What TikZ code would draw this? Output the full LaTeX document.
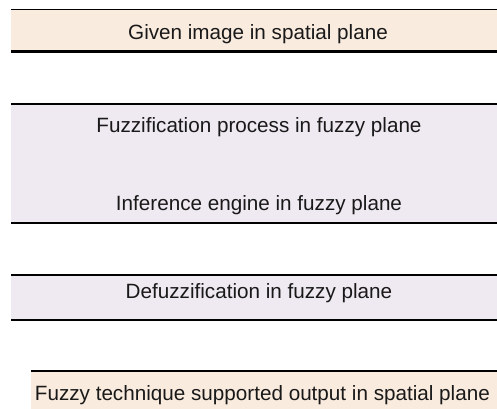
\documentclass[tikz,border=0pt]{standalone}
\usepackage{fontspec}
\setmainfont{Liberation Sans}
\definecolor{peach}{HTML}{FAEBDF}
\definecolor{lav}{HTML}{EFE9F1}
\begin{document}
\begin{tikzpicture}[x=0.75pt,y=-0.75pt,
  band/.style={rectangle,draw=none,inner sep=0pt,outer sep=0pt,anchor=north west},
  lbl/.style={anchor=base,inner sep=0pt,font=\fontsize{15.5pt}{18pt}\selectfont,text=black!90},
  thin rule/.style={line width=1pt},
  thick rule/.style={line width=1.6pt}]
\useasboundingbox (0,0) rectangle (497,408);
% bands
\node[band,fill=peach,minimum width=486*0.75pt,minimum height=42*0.75pt] (b1) at (11,9.5) {};
\node[band,fill=lav,minimum width=486*0.75pt,minimum height=119*0.75pt] (b2) at (11,104) {};
\node[band,fill=lav,minimum width=486*0.75pt,minimum height=45*0.75pt] (b3) at (11,275) {};
\node[band,fill=peach,minimum width=466*0.75pt,minimum height=40*0.75pt] (b4) at (31,371) {};
% rules
\draw[thin rule] (b1.north west) -- (b1.north east);
\draw[thick rule] (b1.south west) -- (b1.south east);
\draw[thick rule] (b2.north west) -- (b2.north east);
\draw[thick rule] (b2.south west) -- (b2.south east);
\draw[thick rule] (b3.north west) -- (b3.north east);
\draw[thick rule] (b3.south west) -- (b3.south east);
\draw[thin rule] (b4.north west) -- (b4.north east);
% labels
\node[lbl] (t1) at (258,39) {Given image in spatial plane};
\node[lbl] (t2) at (259,132) {Fuzzification process in fuzzy plane};
\node[lbl] (t3) at (259,210) {Inference engine in fuzzy plane};
\node[lbl] (t4) at (259,298) {Defuzzification in fuzzy plane};
\node[lbl] (t5) at (262.4,400) {Fuzzy technique supported output in spatial plane};
\end{tikzpicture}
\end{document}
